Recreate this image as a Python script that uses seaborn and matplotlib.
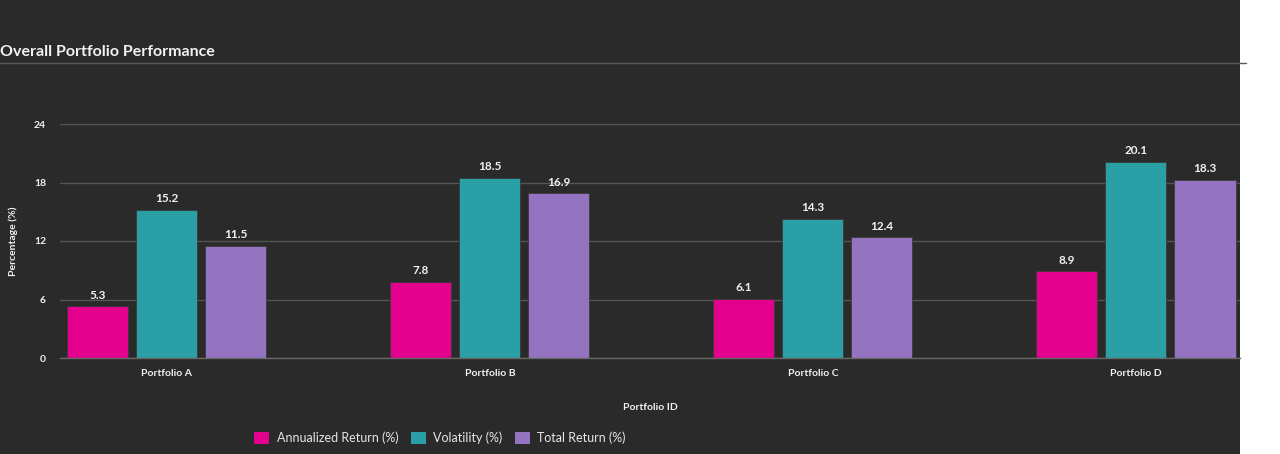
import pandas as pd
import matplotlib.pyplot as plt
import seaborn as sns
from matplotlib.lines import Line2D
from matplotlib.patches import Rectangle


# =========================
# Data
# =========================

portfolios = ["Portfolio A", "Portfolio B", "Portfolio C", "Portfolio D"]

annualized_return = [5.3, 7.8, 6.1, 8.9]
volatility = [15.2, 18.5, 14.3, 20.1]
total_return = [11.5, 16.9, 12.4, 18.3]

metrics = ["Annualized Return (%)", "Volatility (%)", "Total Return (%)"]
colors = ["#e3008c", "#2a9fa5", "#9474c1"]

y_ticks = [0, 6, 12, 18, 24]


df = pd.DataFrame({
    "Portfolio ID": portfolios,
    metrics[0]: annualized_return,
    metrics[1]: volatility,
    metrics[2]: total_return,
})

long_df = df.melt(
    id_vars="Portfolio ID",
    var_name="Metric",
    value_name="Percentage (%)"
)


# =========================
# Style
# =========================

sns.set_style("dark")
plt.rcParams["font.family"] = ["Lato", "DejaVu Sans"]

BG = "#2a2a2a"
GRID = "#555555"
TXT = "#f2f2f2"

W, H = 1280, 454

fig = plt.figure(figsize=(W / 100, H / 100), dpi=100, facecolor="white")

fig.patches.append(
    Rectangle((0, 0), 1240 / W, 1, transform=fig.transFigure,
              facecolor=BG, edgecolor="none", zorder=-10)
)

ax = fig.add_axes([
    60 / W,
    (H - 358) / H,
    (1240 - 60) / W,
    (358 - 124) / H
])
ax.set_facecolor(BG)


# =========================
# Bars
# =========================

sns.barplot(
    data=long_df,
    x="Portfolio ID",
    y="Percentage (%)",
    hue="Metric",
    hue_order=metrics,
    palette=colors,
    saturation=1,
    width=0.641,
    gap=0.116,
    linewidth=0.6,
    edgecolor="#3a3a3a",
    ax=ax
)

for container in ax.containers:
    ax.bar_label(
        container,
        fmt="%.1f",
        padding=4,
        color=TXT,
        fontsize=8.5,
        fontweight="bold"
    )


# =========================
# Axes
# =========================

ax.set_xlim(-0.331, 3.322)
ax.set_ylim(0, 24)
ax.set_yticks(y_ticks)
ax.set_yticklabels([str(t) for t in y_ticks])

ax.yaxis.grid(True, color=GRID, linewidth=1)
ax.xaxis.grid(False)
ax.set_axisbelow(True)

for side in ["top", "right", "left"]:
    ax.spines[side].set_visible(False)
ax.spines["bottom"].set_color("#666666")
ax.spines["bottom"].set_linewidth(1)

ax.tick_params(axis="y", length=0, pad=10, labelcolor=TXT, labelsize=7.5)
ax.tick_params(axis="x", length=4, color="#666666", pad=4,
               labelcolor=TXT, labelsize=7.5)
for lbl in ax.get_xticklabels() + ax.get_yticklabels():
    lbl.set_fontweight("bold")

ax.set_xlabel("Portfolio ID", color=TXT, fontsize=7.5, fontweight="bold")
ax.set_ylabel("Percentage (%)", color=TXT, fontsize=7.5, fontweight="bold")
ax.xaxis.set_label_coords(0.5, -(403 - 358) / 234)
ax.yaxis.set_label_coords(-(60 - 18) / 1180, 0.5)


# =========================
# Legend
# =========================

ax.get_legend().remove()

handles = [
    Rectangle((0, 0), 1, 1, facecolor=c, edgecolor="none")
    for c in colors
]

fig.legend(
    handles,
    metrics,
    loc="center",
    bbox_to_anchor=(440 / W, (H - 438) / H),
    ncol=3,
    frameon=False,
    fontsize=9,
    labelcolor="#e6e6e6",
    handlelength=1.2,
    handleheight=1.2,
    handletextpad=0.6,
    columnspacing=1.0
)


# =========================
# Title
# =========================

fig.text(
    0.0,
    (H - 52) / H,
    "Overall Portfolio Performance",
    color=TXT,
    fontsize=11.5,
    fontweight="bold",
    ha="left",
    va="center"
)

fig.lines.append(
    Line2D([0, 1246 / W], [(H - 63) / H] * 2,
           transform=fig.transFigure, color="#5a5a5a", linewidth=1)
)


plt.savefig("out.png", dpi=100, facecolor=fig.get_facecolor())
